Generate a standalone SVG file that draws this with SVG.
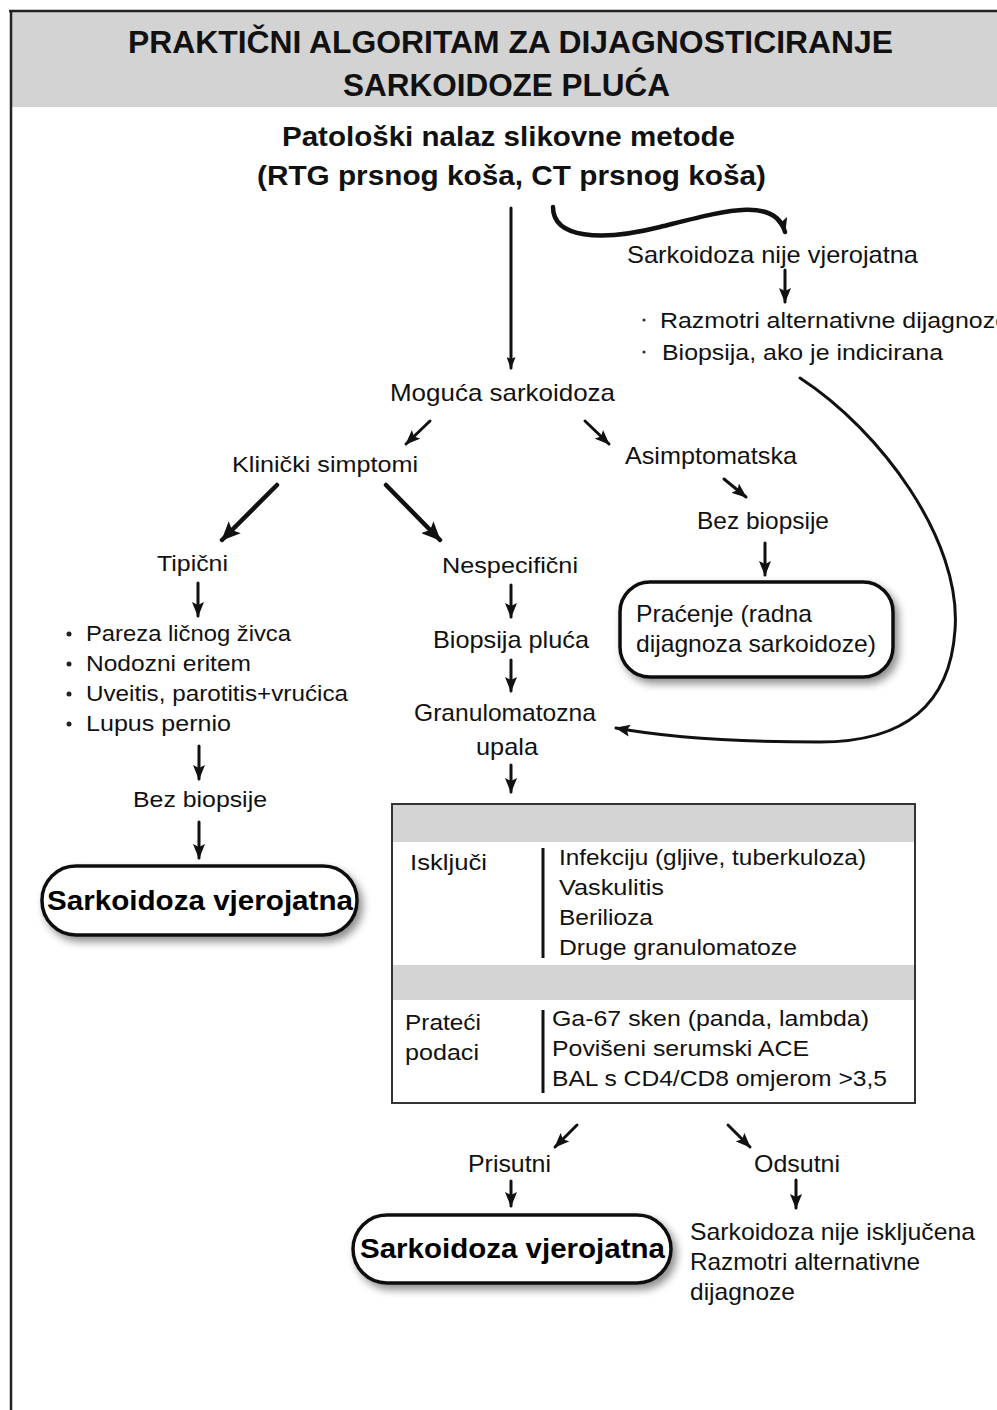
<svg xmlns="http://www.w3.org/2000/svg" width="997" height="1410" viewBox="0 0 997 1410">
<style>
text{font-family:"Liberation Sans",Arial,sans-serif;font-size:22px;fill:#111}
.n{font-size:24px}
.ttl{font-weight:bold;font-size:32px}
.hd{font-weight:bold;font-size:27px}
.bx{font-weight:bold;font-size:27px;fill:#000}
.c{fill:none;stroke:#111;stroke-width:3;stroke-linecap:round}
.ck{fill:none;stroke:#111;stroke-width:4.5;stroke-linecap:round}
.rb{fill:#fff;stroke:#111;stroke-width:3.5}
.bar{stroke:#111;stroke-width:3}
</style>
<defs>
<marker id="ah" markerUnits="userSpaceOnUse" markerWidth="15" markerHeight="13" refX="14" refY="6.5" orient="auto">
<path d="M0,0.5 L15,6.5 L0,12.5 L3,6.5 z" fill="#111"/>
</marker>
<marker id="ahT" markerUnits="userSpaceOnUse" markerWidth="12" markerHeight="9" refX="11" refY="4.5" orient="auto">
<path d="M0,0 L12,4.5 L0,9 L2,4.5 z" fill="#111"/>
</marker>
<marker id="ahL" markerUnits="userSpaceOnUse" markerWidth="19" markerHeight="17" refX="18" refY="8.5" orient="auto">
<path d="M0,0 L19,8.5 L0,17 L4,8.5 z" fill="#111"/>
</marker>
<filter id="sh" x="-10%" y="-20%" width="125%" height="150%">
<feGaussianBlur in="SourceAlpha" stdDeviation="4"/>
<feOffset dx="4" dy="5" result="o"/>
<feComponentTransfer><feFuncA type="linear" slope="0.45"/></feComponentTransfer>
<feMerge><feMergeNode/><feMergeNode in="SourceGraphic"/></feMerge>
</filter>
</defs>

<rect x="0" y="0" width="997" height="1410" fill="#fff"/>
<g id="header">
<rect x="11" y="11" width="986" height="96" fill="#d3d3d3"/>
<line x1="9" y1="11" x2="997" y2="11" stroke="#222" stroke-width="2.5"/>
<line x1="11" y1="11" x2="11" y2="1410" stroke="#222" stroke-width="2.5"/>
<text class="ttl" x="128" y="53" textLength="765" lengthAdjust="spacingAndGlyphs">PRAKTIČNI ALGORITAM ZA DIJAGNOSTICIRANJE</text>
<text class="ttl" x="343" y="96" textLength="327" lengthAdjust="spacingAndGlyphs">SARKOIDOZE PLUĆA</text>
</g>

<g id="connectors">
<path class="c" d="M511,208 L511,368" stroke-width="2" marker-end="url(#ahT)"/>
<path class="ck" d="M553,207 C553,238 600,242 660,227 C720,212 775,195 785,232" stroke-width="3.5" marker-end="url(#ah)"/>
<path class="c" d="M785,270 L785,302" marker-end="url(#ah)"/>
<path class="c" d="M800,378 C880,430 962,540 955,630 C950,705 905,742 820,742 C730,742 665,737 616,728" stroke-width="2.5" marker-end="url(#ah)"/>
<path class="c" d="M430,421 L406,444" stroke-width="3.5" marker-end="url(#ah)"/>
<path class="c" d="M585,421 L609,444" stroke-width="3.5" marker-end="url(#ah)"/>
<path class="ck" d="M277,485 L222,540" marker-end="url(#ahL)"/>
<path class="ck" d="M386,485 L440,540" marker-end="url(#ahL)"/>
<path class="c" d="M724,479 L746,497" stroke-width="3.5" marker-end="url(#ah)"/>
<path class="c" d="M765,543 L765,575" marker-end="url(#ah)"/>
<path class="c" d="M198,583 L198,616" marker-end="url(#ah)"/>
<path class="c" d="M199,746 L199,779" marker-end="url(#ah)"/>
<path class="c" d="M199,822 L199,858" marker-end="url(#ah)"/>
<path class="c" d="M511,585 L511,617" marker-end="url(#ah)"/>
<path class="c" d="M511,660 L511,691" marker-end="url(#ah)"/>
<path class="c" d="M511,765 L511,792" marker-end="url(#ah)"/>
<path class="c" d="M577,1125 L555,1147" stroke-width="3.5" marker-end="url(#ah)"/>
<path class="c" d="M728,1125 L750,1147" stroke-width="3.5" marker-end="url(#ah)"/>
<path class="c" d="M511,1181 L511,1206" marker-end="url(#ah)"/>
<path class="c" d="M796,1180 L796,1208" marker-end="url(#ah)"/>
</g>

<g id="n-imaging">
<text class="hd" x="282" y="146" textLength="453" lengthAdjust="spacingAndGlyphs">Patološki nalaz slikovne metode</text>
<text class="hd" x="257" y="185" textLength="509" lengthAdjust="spacingAndGlyphs">(RTG prsnog koša, CT prsnog koša)</text>
</g>

<g id="n-unlikely">
<text class="n" x="627" y="263" textLength="291" lengthAdjust="spacingAndGlyphs">Sarkoidoza nije vjerojatna</text>
</g>

<g id="n-alternatives">
<circle cx="644" cy="320" r="1.6" fill="#333"/>
<text x="660" y="328" textLength="349" lengthAdjust="spacingAndGlyphs">Razmotri alternativne dijagnoze</text>
<circle cx="644" cy="352" r="1.6" fill="#333"/>
<text x="662" y="360" textLength="281" lengthAdjust="spacingAndGlyphs">Biopsija, ako je indicirana</text>
</g>

<g id="n-possible">
<text class="n" x="390" y="401" textLength="225" lengthAdjust="spacingAndGlyphs">Moguća sarkoidoza</text>
</g>

<g id="n-clinical">
<text x="232" y="472" textLength="186" lengthAdjust="spacingAndGlyphs">Klinički simptomi</text>
</g>

<g id="n-asymptomatic">
<text class="n" x="625" y="464" textLength="172" lengthAdjust="spacingAndGlyphs">Asimptomatska</text>
</g>

<g id="n-nobiopsy-right">
<text class="n" x="697" y="529" textLength="132" lengthAdjust="spacingAndGlyphs">Bez biopsije</text>
</g>

<g id="n-followup">
<rect class="rb" x="620" y="582" width="273" height="95" rx="30" filter="url(#sh)"/>
<text class="n" x="636" y="622" textLength="176" lengthAdjust="spacingAndGlyphs">Praćenje (radna</text>
<text class="n" x="636" y="652" textLength="240" lengthAdjust="spacingAndGlyphs">dijagnoza sarkoidoze)</text>
</g>

<g id="n-typical">
<text x="157" y="571" textLength="71" lengthAdjust="spacingAndGlyphs">Tipični</text>
</g>

<g id="n-typical-list">
<circle cx="69" cy="634" r="2.5" fill="#222"/>
<text x="86" y="641" textLength="205" lengthAdjust="spacingAndGlyphs">Pareza ličnog živca</text>
<circle cx="69" cy="664" r="2.5" fill="#222"/>
<text x="86" y="671" textLength="165" lengthAdjust="spacingAndGlyphs">Nodozni eritem</text>
<circle cx="69" cy="694" r="2.5" fill="#222"/>
<text x="86" y="701" textLength="262" lengthAdjust="spacingAndGlyphs">Uveitis, parotitis+vrućica</text>
<circle cx="69" cy="724" r="2.5" fill="#222"/>
<text x="86" y="731" textLength="145" lengthAdjust="spacingAndGlyphs">Lupus pernio</text>
</g>

<g id="n-nobiopsy-left">
<text x="133" y="807" textLength="134" lengthAdjust="spacingAndGlyphs">Bez biopsije</text>
</g>

<g id="n-probable-left">
<rect class="rb" x="42" y="866" width="315" height="69" rx="34" filter="url(#sh)"/>
<text class="bx" x="47" y="910" textLength="306" lengthAdjust="spacingAndGlyphs">Sarkoidoza vjerojatna</text>
</g>

<g id="n-nonspecific">
<text x="442" y="573" textLength="136" lengthAdjust="spacingAndGlyphs">Nespecifični</text>
</g>

<g id="n-lungbiopsy">
<text class="n" x="433" y="648" textLength="156" lengthAdjust="spacingAndGlyphs">Biopsija pluća</text>
</g>

<g id="n-granulomatous">
<text class="n" x="414" y="721" textLength="182" lengthAdjust="spacingAndGlyphs">Granulomatozna</text>
<text class="n" x="476" y="755" textLength="62" lengthAdjust="spacingAndGlyphs">upala</text>
</g>

<g id="n-table">
<rect x="392" y="804" width="523" height="299" fill="#fff"/>
<rect x="393" y="805" width="521" height="37" fill="#d4d4d4"/>
<rect x="393" y="965" width="521" height="35" fill="#d4d4d4"/>
<rect x="392" y="804" width="523" height="299" fill="none" stroke="#333" stroke-width="2"/>
<text x="410" y="870" textLength="77" lengthAdjust="spacingAndGlyphs">Isključi</text>
<line class="bar" x1="543" y1="848" x2="543" y2="958"/>
<text x="559" y="865" textLength="307" lengthAdjust="spacingAndGlyphs">Infekciju (gljive, tuberkuloza)</text>
<text x="559" y="895" textLength="105" lengthAdjust="spacingAndGlyphs">Vaskulitis</text>
<text x="559" y="925" textLength="94" lengthAdjust="spacingAndGlyphs">Berilioza</text>
<text x="559" y="955" textLength="238" lengthAdjust="spacingAndGlyphs">Druge granulomatoze</text>
<text x="405" y="1030" textLength="76" lengthAdjust="spacingAndGlyphs">Prateći</text>
<text x="405" y="1060" textLength="74" lengthAdjust="spacingAndGlyphs">podaci</text>
<line class="bar" x1="543" y1="1010" x2="543" y2="1093"/>
<text x="552" y="1026" textLength="317" lengthAdjust="spacingAndGlyphs">Ga-67 sken (panda, lambda)</text>
<text x="552" y="1056" textLength="257" lengthAdjust="spacingAndGlyphs">Povišeni serumski ACE</text>
<text x="552" y="1086" textLength="335" lengthAdjust="spacingAndGlyphs">BAL s CD4/CD8 omjerom &gt;3,5</text>
</g>

<g id="n-present">
<text class="n" x="468" y="1172" textLength="83" lengthAdjust="spacingAndGlyphs">Prisutni</text>
</g>

<g id="n-absent">
<text class="n" x="754" y="1172" textLength="86" lengthAdjust="spacingAndGlyphs">Odsutni</text>
</g>

<g id="n-probable-bottom">
<rect class="rb" x="353" y="1215" width="318" height="68" rx="34" filter="url(#sh)"/>
<text class="bx" x="360" y="1258" textLength="305" lengthAdjust="spacingAndGlyphs">Sarkoidoza vjerojatna</text>
</g>

<g id="n-not-excluded">
<text class="n" x="690" y="1240" textLength="285" lengthAdjust="spacingAndGlyphs">Sarkoidoza nije isključena</text>
<text class="n" x="690" y="1270" textLength="230" lengthAdjust="spacingAndGlyphs">Razmotri alternativne</text>
<text class="n" x="690" y="1300" textLength="105" lengthAdjust="spacingAndGlyphs">dijagnoze</text>
</g>
</svg>
